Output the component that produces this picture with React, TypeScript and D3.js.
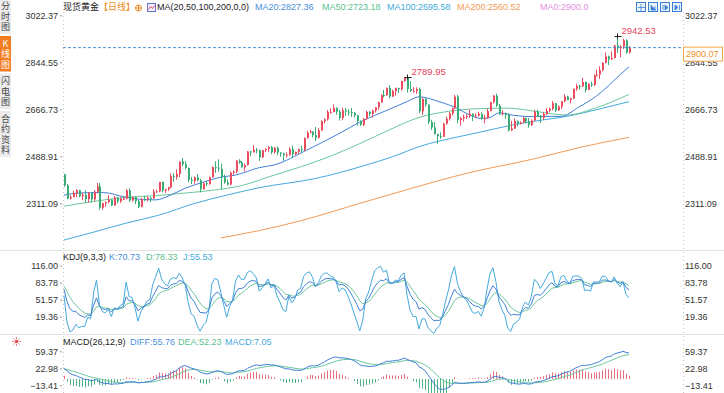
import * as d3 from 'd3'
import { useEffect, useRef } from 'react'

// 现货黄金 daily bars, 2024-05-22 .. 2025-02-17: [open, high, low, close]
const candles: number[][] = [
  [2421,2422,2374,2379],[2379,2385,2326,2329],[2329,2342,2325,2334],[2334,2358,2334,2350],
  [2350,2364,2335,2361],[2361,2362,2334,2338],[2338,2351,2323,2343],[2343,2360,2314,2327],
  // Jun
  [2327,2354,2314,2350],[2350,2353,2314,2326],[2326,2361,2319,2355],[2355,2388,2348,2375],
  [2375,2387,2286,2294],[2294,2314,2287,2311],[2311,2318,2298,2316],[2316,2342,2311,2325],
  [2325,2327,2300,2303],[2303,2339,2302,2333],[2333,2333,2311,2319],[2319,2335,2312,2329],
  [2329,2336,2323,2329],[2329,2365,2326,2360],[2360,2368,2316,2322],[2322,2336,2318,2334],
  [2334,2337,2308,2319],[2319,2324,2293,2298],[2298,2331,2296,2327],[2327,2339,2319,2326],
  // Jul
  [2326,2338,2318,2332],[2332,2335,2316,2330],[2330,2365,2327,2356],[2356,2363,2352,2356],
  [2356,2392,2353,2392],[2392,2393,2353,2359],[2359,2366,2350,2364],[2364,2373,2358,2371],
  [2371,2424,2368,2415],[2415,2425,2392,2411],[2411,2440,2401,2422],[2422,2469,2410,2469],
  [2469,2483,2451,2459],[2459,2470,2440,2445],[2445,2446,2391,2400],[2400,2411,2384,2396],
  [2396,2413,2385,2409],[2409,2421,2394,2398],[2398,2404,2353,2364],[2364,2390,2363,2387],
  [2387,2394,2376,2384],[2384,2412,2381,2410],[2410,2451,2408,2448],
  // Aug
  [2448,2470,2426,2446],[2446,2477,2431,2442],[2442,2461,2364,2410],[2410,2420,2385,2390],
  [2390,2402,2379,2382],[2382,2431,2380,2427],[2427,2435,2418,2431],[2431,2475,2425,2472],
  [2472,2478,2460,2465],[2465,2472,2446,2447],[2447,2461,2432,2456],[2456,2509,2454,2507],
  [2507,2510,2490,2504],[2504,2531,2503,2514],[2514,2520,2500,2512],[2512,2514,2471,2485],
  [2485,2513,2482,2512],[2512,2520,2505,2517],[2517,2528,2506,2524],[2524,2528,2497,2504],
  [2504,2524,2499,2521],[2521,2526,2493,2503],
  // Sep
  [2503,2504,2487,2500],[2500,2503,2472,2493],[2493,2504,2484,2495],[2495,2523,2491,2516],
  [2516,2529,2485,2497],[2497,2507,2492,2506],[2506,2518,2497,2516],[2516,2529,2500,2512],
  [2512,2560,2508,2558],[2558,2586,2556,2578],[2578,2589,2576,2582],[2582,2584,2561,2569],
  [2569,2600,2547,2559],[2559,2596,2556,2587],[2587,2625,2585,2622],[2622,2632,2613,2629],
  [2629,2664,2624,2657],[2657,2670,2650,2657],[2657,2685,2655,2672],[2672,2674,2646,2658],
  [2658,2664,2624,2634],
  // Oct
  [2634,2673,2625,2663],[2663,2672,2642,2658],[2658,2667,2643,2656],[2656,2671,2638,2653],
  [2653,2657,2636,2644],[2644,2646,2605,2622],[2622,2625,2604,2608],[2608,2634,2603,2631],
  [2631,2661,2627,2657],[2657,2660,2641,2649],[2649,2665,2636,2662],[2662,2675,2655,2674],
  [2674,2696,2665,2693],[2693,2722,2692,2721],[2721,2740,2712,2720],[2720,2749,2717,2748],
  [2748,2758,2709,2715],[2715,2741,2713,2736],[2736,2749,2718,2747],[2747,2749,2728,2743],
  [2743,2774,2737,2774],[2774,2789,2771,2788],[2788,2789.95,2730,2743],
  // Nov
  [2743,2772,2732,2736],[2736,2750,2730,2736],[2736,2750,2725,2743],[2743,2749,2652,2659],
  [2659,2711,2645,2706],[2706,2709,2676,2685],[2685,2685,2610,2619],[2619,2627,2589,2598],
  [2598,2618,2572,2573],[2573,2574,2536,2565],[2565,2580,2555,2563],[2563,2616,2562,2612],
  [2612,2639,2609,2631],[2631,2656,2624,2651],[2651,2674,2643,2670],[2670,2721,2668,2715],
  [2715,2721,2614,2626],[2626,2638,2605,2633],[2633,2647,2620,2638],[2638,2648,2630,2641],
  [2641,2665,2634,2650],
  // Dec
  [2650,2651,2622,2640],[2640,2651,2633,2643],[2643,2658,2639,2650],[2650,2655,2627,2632],
  [2632,2645,2614,2633],[2633,2669,2631,2660],[2660,2695,2659,2694],[2694,2721,2688,2718],
  [2718,2726,2676,2680],[2680,2687,2645,2648],[2648,2664,2643,2652],[2652,2655,2630,2646],
  [2646,2652,2583,2587],[2587,2623,2584,2594],[2594,2632,2592,2622],[2622,2625,2602,2612],
  [2612,2621,2609,2617],[2617,2638,2615,2634],[2634,2635,2614,2621],[2621,2634,2597,2607],
  [2607,2629,2604,2624],
  // Jan
  [2624,2665,2624,2658],[2658,2665,2638,2640],[2640,2645,2615,2635],[2635,2657,2627,2649],
  [2649,2671,2645,2661],[2661,2673,2656,2669],[2669,2698,2663,2690],[2690,2691,2656,2663],
  [2663,2682,2661,2677],[2677,2698,2668,2697],[2697,2724,2693,2715],[2715,2718,2701,2702],
  [2702,2711,2689,2708],[2708,2745,2705,2744],[2744,2763,2737,2755],[2755,2760,2741,2754],
  [2754,2786,2751,2770],[2770,2772,2731,2740],[2740,2765,2739,2763],[2763,2771,2751,2759],
  [2759,2799,2755,2794],[2794,2817,2790,2798],
  // Feb
  [2798,2830,2782,2815],[2815,2845,2810,2843],[2843,2882,2840,2867],[2867,2870,2834,2856],
  [2856,2886,2854,2861],[2861,2911,2859,2908],[2908,2942.53,2880,2898],[2898,2910,2864,2904],
  [2904,2934,2895,2928],[2928,2932,2877,2882],[2882,2906,2878,2900.07],
]

// moving averages: [bar index, value]
const ma20 = [[0,2342],[5,2350],[13,2352],[21,2334],[27,2325],[31,2324],[36,2342],[41,2368],[47,2391],[53,2410],[58,2418],[66,2446],[71,2456],[82,2512],[93,2575],[100,2618],[110,2667],[116,2696],[120,2714],[127,2695],[133,2670],[137,2646],[141,2632],[144,2636],[147,2653],[152,2644],[158,2639],[163,2640],[168,2640],[174,2675],[180,2717],[184,2755],[188,2798],[191,2827.36]]
const ma50 = [[0,2300],[10,2318],[21,2334],[31,2340],[41,2350],[50,2360],[60,2378],[70,2414],[80,2449],[90,2489],[100,2537],[110,2589],[120,2636],[130,2659],[140,2669],[150,2671],[160,2658],[170,2645],[180,2673],[191,2723.18]]
const ma100 = [[0,2172],[10,2202],[21,2236],[32,2266],[44,2310],[55,2342],[66,2370],[85,2405],[101,2452],[111,2487],[121,2529],[131,2557],[141,2581],[151,2606],[161,2625],[171,2642],[181,2668],[191,2695.58]]
const ma200 = [[53,2180],[66,2208],[80,2245],[100,2311],[116,2363],[137,2427],[158,2477],[175,2524],[191,2560.52]]

const priceTicks = [3022.37, 2844.55, 2666.73, 2488.91, 2311.09]
const kdjTicks = [116.0, 83.78, 51.57, 19.36]
const macdTicks = [59.37, 22.98, -13.41]
const lastPrice = 2900.07
const markedHighs = [2789.95, 2942.53]

// indicator state just before the first visible bar
const kdjSeed = { k: 88, d: 80, hi: 2450, lo: 2336 }
const macdSeed = { ema12: 2397, ema26: 2369, dea: 20 }

const sideTabs = ['分时图', 'K线图', '闪电图', '合约资料']

const BLUE = '#4a8fdb', GREEN = '#5bbf8e', CYAN = '#44aadd', ORANGE = '#f39a55', PINK = '#e38fe0'
const UP = '#ec4d5e', DOWN = '#3aac78'

export default function App() {
  const svgRef = useRef<SVGSVGElement>(null)

  useEffect(() => {
    const svg = d3.select(svgRef.current)
    svg.selectAll('*').remove()
    const font = '"Liberation Sans", Arial, "Noto Sans CJK SC", sans-serif'
    const n = candles.length

    const x = d3.scaleLinear().domain([0, n - 1]).range([64, 629])
    const y = d3.scaleLinear().domain([2311.09, 3022.37]).range([203.3, 15.3])
    const yK = d3.scaleLinear().domain([19.36, 116]).range([316.7, 265.7])
    const yM = d3.scaleLinear().domain([-13.41, 59.37]).range([385.3, 351.3])

    svg.append('rect').attr('width', 724).attr('height', 393).attr('fill', '#fff')

    const defs = svg.append('defs')
    const clip = (id: string, y0: number, y1: number) =>
      defs.append('clipPath').attr('id', id).append('rect')
        .attr('x', 63).attr('y', y0).attr('width', 620).attr('height', y1 - y0)
    clip('cMain', 12, 250)
    clip('cKdj', 252, 334)
    clip('cMacd', 336, 393)

    // panel separators + dotted axis lines
    ;[250.5, 334.5].forEach(v => svg.append('line')
      .attr('x1', 0).attr('x2', 724).attr('y1', v).attr('y2', v).attr('stroke', '#e4e4e4'))
    ;[63.5, 683.5].forEach(v => svg.append('line')
      .attr('x1', v).attr('x2', v).attr('y1', 12).attr('y2', 393)
      .attr('stroke', '#c4c4c4').attr('stroke-dasharray', '1,3'))

    // axes
    const axes = (scale: any, ticks: number[]) => {
      svg.append('g').attr('transform', 'translate(62,0)')
        .call(d3.axisLeft(scale).tickValues(ticks).tickFormat(d3.format('.2f')).tickSize(2).tickPadding(2))
        .call(g => g.select('.domain').remove())
        .call(g => g.selectAll('line').attr('stroke', '#999'))
        .call(g => g.selectAll('text').attr('fill', '#333').style('font', `9px ${font}`))
      svg.append('g').attr('transform', 'translate(683,0)')
        .call(d3.axisRight(scale).tickValues(ticks).tickFormat(d3.format('.2f')).tickSize(0).tickPadding(2))
        .call(g => g.select('.domain').remove())
        .call(g => g.selectAll('text').attr('fill', '#333').style('font', `9px ${font}`))
    }
    axes(y, priceTicks)
    axes(yK, kdjTicks)
    axes(yM, macdTicks)

    // ---- main panel
    const gMain = svg.append('g').attr('clip-path', 'url(#cMain)')

    const maLine = d3.line<number[]>().x(d => x(d[0])).y(d => y(d[1])).curve(d3.curveMonotoneX)
    ;[[ma200, ORANGE], [ma100, CYAN], [ma50, '#6cc79c'], [ma20, '#3f80d8']].forEach(([data, col]) => {
      gMain.append('path').datum(data as number[][]).attr('d', maLine)
        .attr('fill', 'none').attr('stroke', col as string).attr('stroke-width', 1)
    })

    const bars = gMain.append('g').selectAll('g').data(candles).join('g')
    bars.append('line')
      .attr('x1', (d, i) => Math.round(x(i)) + 0.5).attr('x2', (d, i) => Math.round(x(i)) + 0.5)
      .attr('y1', d => y(d[1])).attr('y2', d => y(d[2]))
      .attr('stroke', d => d[3] >= d[0] ? UP : DOWN)
    bars.append('rect')
      .attr('x', (d, i) => Math.round(x(i)))
      .attr('y', d => y(Math.max(d[0], d[3])))
      .attr('width', 2)
      .attr('height', d => Math.max(1, y(Math.min(d[0], d[3])) - y(Math.max(d[0], d[3]))))
      .attr('fill', d => d[3] >= d[0] ? UP : DOWN)

    // last price line
    svg.append('line').attr('x1', 63).attr('x2', 683).attr('y1', y(lastPrice)).attr('y2', y(lastPrice))
      .attr('stroke', '#4a90e2').attr('stroke-dasharray', '3,2')
    svg.append('rect').attr('x', 683.5).attr('y', y(lastPrice) - 0.5).attr('width', 39).attr('height', 14)
      .attr('fill', '#fff').attr('stroke', '#f2a64a')
    svg.append('text').attr('x', 686).attr('y', y(lastPrice) + 7).attr('dominant-baseline', 'middle')
      .attr('fill', '#f0902a').style('font', `9px ${font}`).text(lastPrice.toFixed(2))

    // marked highs
    markedHighs.forEach(v => {
      const i = candles.findIndex(c => c[1] === v)
      const cx = Math.round(x(i)) + 0.5, cy = Math.round(y(v)) + 0.5
      svg.append('line').attr('x1', cx - 3).attr('x2', cx + 4).attr('y1', cy).attr('y2', cy).attr('stroke', '#222')
      svg.append('line').attr('x1', cx).attr('x2', cx).attr('y1', cy - 3).attr('y2', cy + 2).attr('stroke', '#222')
      svg.append('text').attr('x', cx + 4).attr('y', cy - 5).attr('dominant-baseline', 'middle')
        .attr('fill', '#e4465c').style('font', `9.5px ${font}`).text(v.toFixed(2))
    })

    // ---- KDJ
    let k = kdjSeed.k, dd = kdjSeed.d
    const kdj = candles.map((c, i) => {
      const win = candles.slice(Math.max(0, i - 8), i + 1)
      let hi = d3.max(win, w => w[1]) as number, lo = d3.min(win, w => w[2]) as number
      if (i < 7) { hi = Math.max(hi, kdjSeed.hi); lo = Math.min(lo, kdjSeed.lo) }
      const rsv = (c[3] - lo) / (hi - lo) * 100
      k = (2 * k + rsv) / 3
      dd = (2 * dd + k) / 3
      return [k, dd, 3 * k - 2 * dd]
    })
    const gK = svg.append('g').attr('clip-path', 'url(#cKdj)')
    ;[[2, CYAN], [1, '#6cc79c'], [0, '#3f80d8']].forEach(([j, col]) => {
      gK.append('path').datum(kdj)
        .attr('d', d3.line<number[]>().x((d, i) => x(i)).y(d => yK(d[j as number])))
        .attr('fill', 'none').attr('stroke', col as string).attr('stroke-width', 1)
    })

    // ---- MACD
    let e12 = macdSeed.ema12, e26 = macdSeed.ema26, dea = macdSeed.dea
    const macd = candles.map(c => {
      e12 += (c[3] - e12) * 2 / 13
      e26 += (c[3] - e26) * 2 / 27
      const diff = e12 - e26
      dea += (diff - dea) * 2 / 10
      return [diff, dea, 2 * (diff - dea)]
    })
    const gM = svg.append('g').attr('clip-path', 'url(#cMacd)')
    gM.append('g').selectAll('line').data(macd).join('line')
      .attr('x1', (d, i) => Math.round(x(i)) + 0.5).attr('x2', (d, i) => Math.round(x(i)) + 0.5)
      .attr('y1', yM(0)).attr('y2', d => yM(d[2]))
      .attr('stroke', d => d[2] >= 0 ? '#e8707f' : '#4fb184')
    ;[[1, '#6cc79c'], [0, '#3f80d8']].forEach(([j, col]) => {
      gM.append('path').datum(macd)
        .attr('d', d3.line<number[]>().x((d, i) => x(i)).y(d => yM(d[j as number])))
        .attr('fill', 'none').attr('stroke', col as string).attr('stroke-width', 1)
    })

    // ---- legends
    const label = (tx: number, ty: number, t: string, col: string) =>
      svg.append('text').attr('x', tx).attr('y', ty).attr('dominant-baseline', 'middle')
        .attr('fill', col).style('font', `9px ${font}`).text(t)

    label(63, 7.5, '现货黄金', '#222')
    label(99, 7.5, '【日线】', '#f08a24')
    svg.append('circle').attr('cx', 138.5).attr('cy', 8).attr('r', 3).attr('fill', 'none').attr('stroke', '#f08a24')
    svg.append('path').attr('d', 'M135.5,8H141.5M138.5,5V11').attr('stroke', '#f08a24')
    svg.append('rect').attr('x', 147.5).attr('y', 3.5).attr('width', 8).attr('height', 8).attr('fill', '#eef').attr('stroke', '#6a6fc8')
    svg.append('path').attr('d', 'M148.5,9.5L150.5,6.5L152.5,8.5L154.5,5.5').attr('fill', 'none').attr('stroke', '#e0506a')
    label(157, 7.5, 'MA(20,50,100,200,0,0)', '#222')
    label(255, 7.5, 'MA20:2827.36', BLUE)
    label(322, 7.5, 'MA50:2723.18', GREEN)
    label(387, 7.5, 'MA100:2695.58', CYAN)
    label(457, 7.5, 'MA200:2560.52', ORANGE)
    label(540, 7.5, 'MA0:2900.0', PINK)

    label(63, 258, 'KDJ(9,3,3)', '#222')
    label(109, 258, 'K:70.73', BLUE)
    label(146, 258, 'D:78.33', GREEN)
    label(183, 258, 'J:55.53', CYAN)

    label(63, 343, 'MACD(26,12,9)', '#222')
    label(130, 343, 'DIFF:55.76', BLUE)
    label(178, 343, 'DEA:52.23', GREEN)
    label(225, 343, 'MACD:7.05', CYAN)

    // top-right tool icons
    ;[636, 648, 660, 672].forEach((ix, i) => {
      svg.append('rect').attr('x', ix + 0.5).attr('y', 2.5).attr('width', 9).attr('height', 9)
        .attr('fill', '#eaf2fc').attr('stroke', '#3a7fd5')
      const p = [
        `M${ix + 5},4V11M${ix + 2},7.5H${ix + 9}`,
        `M${ix + 3},5V10H${ix + 8}M${ix + 5},7V10M${ix + 7},6V10`,
        `M${ix + 3},5V10M${ix + 5},5L${ix + 8},7.5L${ix + 5},10Z`,
        `M${ix + 3},5L${ix + 6},7.5L${ix + 3},10ZM${ix + 7.5},5V10`,
      ][i]
      svg.append('path').attr('d', p).attr('fill', '#3a7fd5').attr('stroke', '#3a7fd5').attr('stroke-width', 0.8)
    })

    // sun icon for MACD panel
    const sun = svg.append('g').attr('transform', 'translate(16.5,341.5)')
    sun.append('circle').attr('r', 1.8).attr('fill', '#e24b4b')
    d3.range(8).forEach(a => {
      const t = a * Math.PI / 4
      sun.append('line').attr('x1', Math.cos(t) * 2.8).attr('y1', Math.sin(t) * 2.8)
        .attr('x2', Math.cos(t) * 4.2).attr('y2', Math.sin(t) * 4.2).attr('stroke', '#e24b4b')
    })

    // left sidebar tabs, text set vertically
    let top = -1.5
    sideTabs.forEach((t, ti) => {
      const h = t.length * 10.5 + 4
      const on = ti === 1
      svg.append('rect').attr('x', 0).attr('y', top).attr('width', 11).attr('height', h)
        .attr('fill', on ? '#f47d22' : '#ececec')
      svg.append('text').attr('x', 5.5).attr('y', top + 3)
        .attr('fill', on ? '#fff' : '#444')
        .style('font', '9px "Noto Sans CJK SC", sans-serif')
        .style('writing-mode', 'vertical-rl')
        .style('text-orientation', 'upright')
        .style('letter-spacing', '1.5px')
        .text(t)
      top += h + 2
    })
  }, [])

  return <svg ref={svgRef} width={724} height={393} style={{ position: 'fixed', left: 0, top: 0 }} />
}
